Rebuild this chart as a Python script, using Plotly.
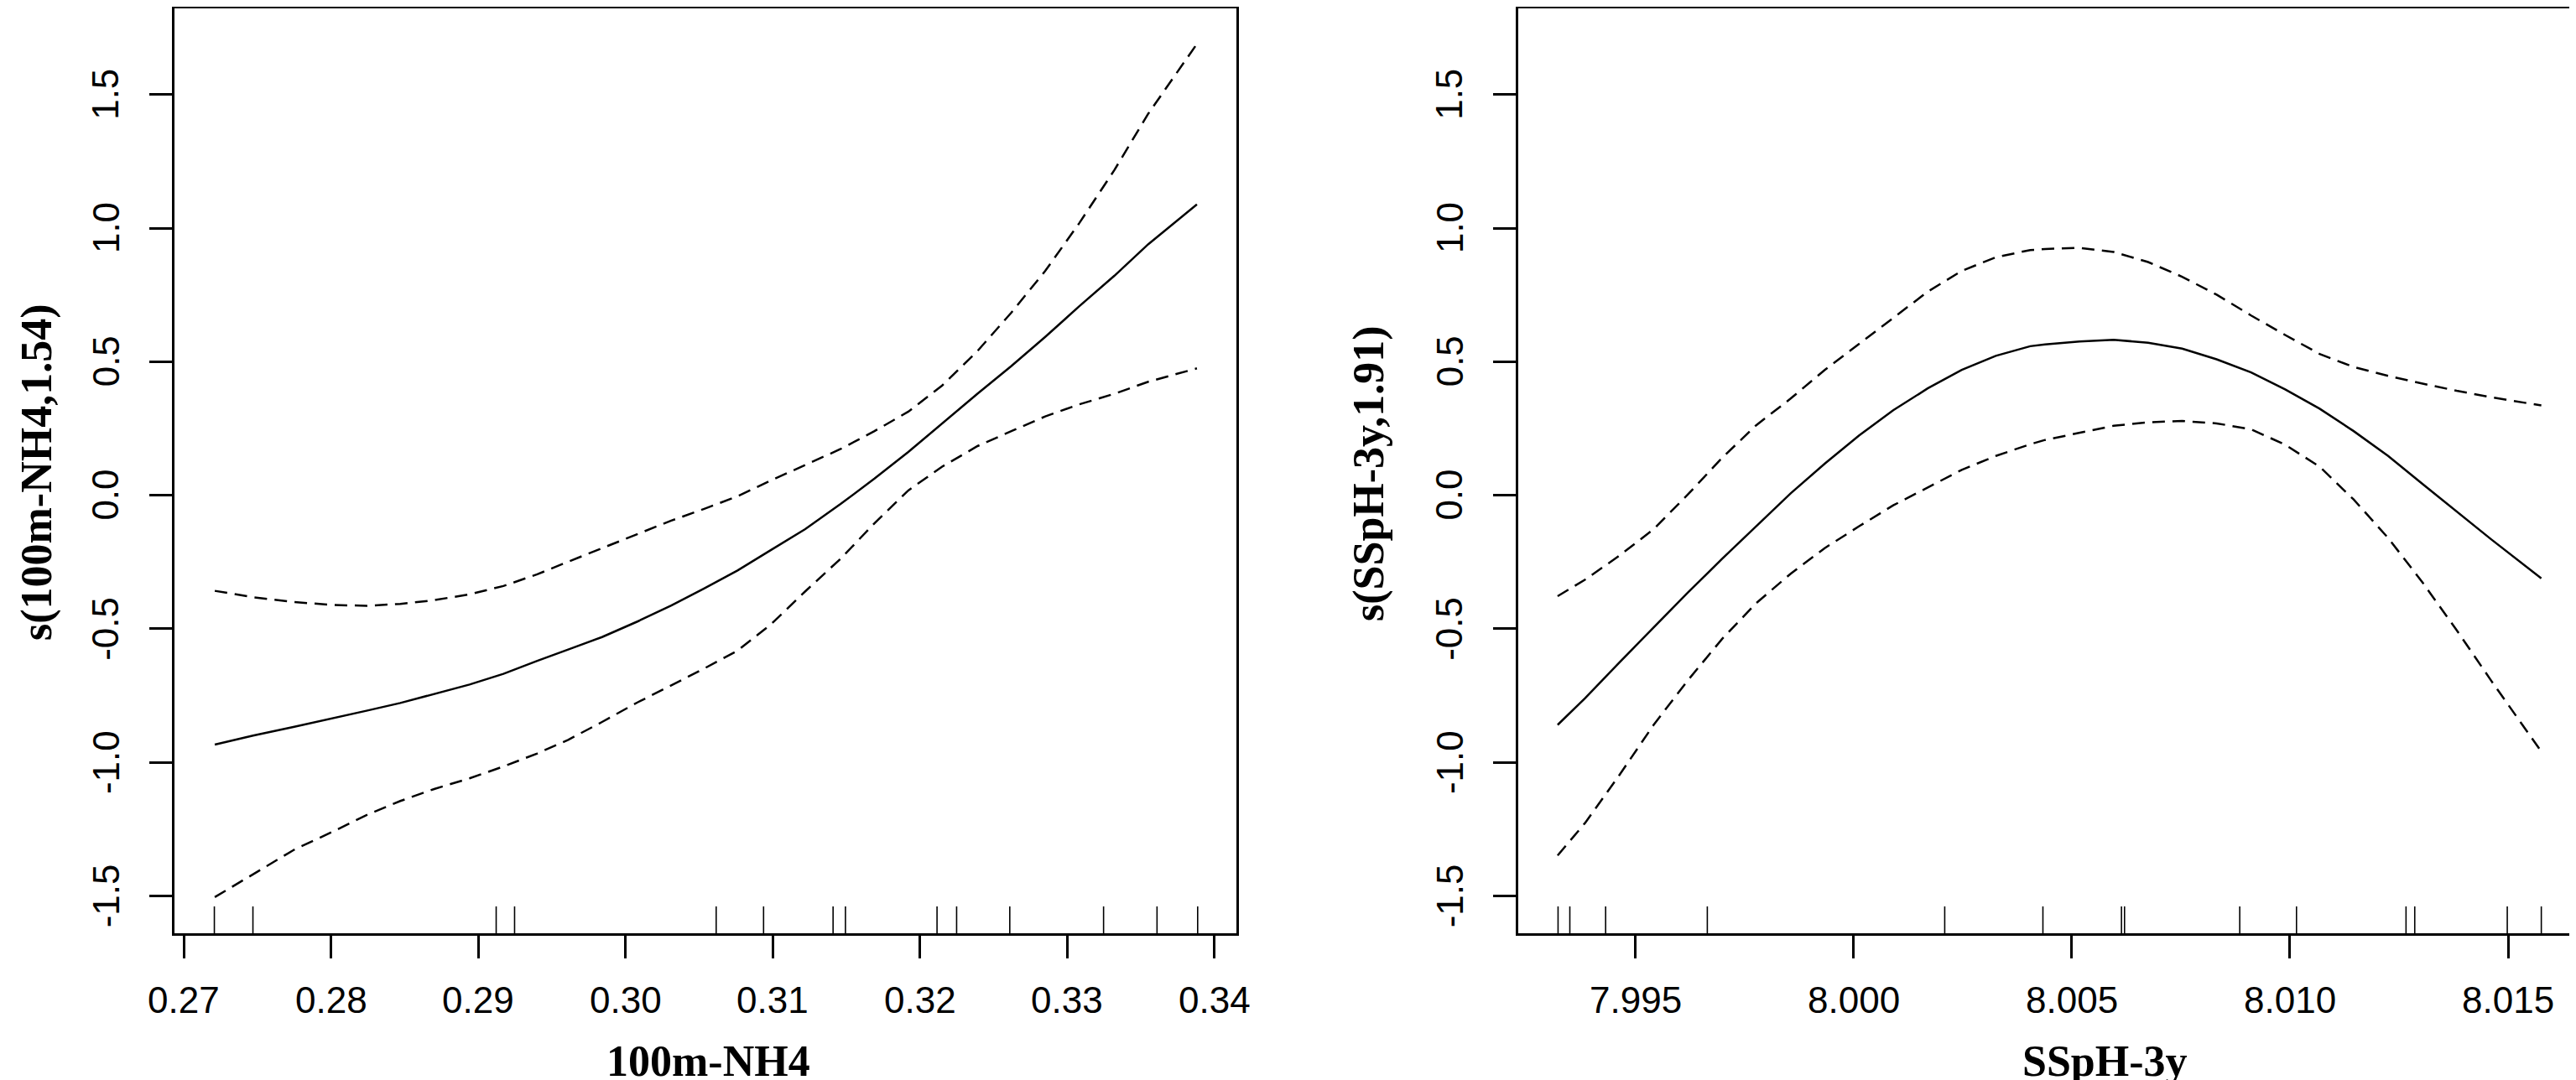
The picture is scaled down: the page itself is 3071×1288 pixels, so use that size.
import plotly.graph_objects as go

# ---- left panel: s(100m-NH4) ----
nh4_x = [0.2721, 0.2747, 0.2775, 0.2801, 0.2824, 0.2847, 0.2870, 0.2894, 0.2917, 0.2940,
         0.2961, 0.2984, 0.3008, 0.3031, 0.3053, 0.3076, 0.3099, 0.3122, 0.3146, 0.3169,
         0.3192, 0.3215, 0.3239, 0.3262, 0.3285, 0.3308, 0.3332, 0.3355, 0.3388]
nh4_fit = [-0.934, -0.900, -0.867, -0.836, -0.807, -0.778, -0.745, -0.709, -0.669, -0.620,
           -0.578, -0.531, -0.473, -0.413, -0.350, -0.282, -0.204, -0.127, -0.033, 0.062,
           0.162, 0.269, 0.380, 0.484, 0.593, 0.707, 0.822, 0.940, 1.089]
nh4_upper = [-0.358, -0.382, -0.400, -0.411, -0.414, -0.407, -0.393, -0.371, -0.340, -0.296,
             -0.249, -0.198, -0.144, -0.095, -0.052, -0.004, 0.056, 0.113, 0.173, 0.240,
             0.313, 0.411, 0.540, 0.684, 0.840, 1.018, 1.218, 1.429, 1.690]
nh4_lower = [-1.505, -1.420, -1.327, -1.260, -1.198, -1.145, -1.100, -1.060, -1.016, -0.967,
             -0.916, -0.849, -0.776, -0.712, -0.650, -0.582, -0.482, -0.360, -0.238, -0.105,
             0.018, 0.107, 0.184, 0.240, 0.295, 0.340, 0.380, 0.425, 0.475]
nh4_rug = [0.27207, 0.27469, 0.29121, 0.29246, 0.30615, 0.30937, 0.31409, 0.31493,
           0.32115, 0.32248, 0.32609, 0.33246, 0.33609, 0.33885]

# ---- right panel: s(SSpH-3y) ----
ph_x = [7.99322, 7.99385, 7.99463, 7.99542, 7.99620, 7.99699, 7.99777, 7.99856, 7.99934,
        8.00013, 8.00091, 8.00170, 8.00248, 8.00326, 8.00405, 8.00439, 8.00518, 8.00596,
        8.00675, 8.00753, 8.00832, 8.00911, 8.00989, 8.01068, 8.01146, 8.01225, 8.01304,
        8.01382, 8.01461, 8.01576]
ph_fit = [-0.860, -0.760, -0.627, -0.494, -0.365, -0.238, -0.116, 0.007, 0.118, 0.224,
          0.318, 0.400, 0.469, 0.522, 0.558, 0.565, 0.576, 0.582, 0.571, 0.549,
          0.509, 0.460, 0.396, 0.324, 0.240, 0.147, 0.042, -0.062, -0.165, -0.311]
ph_upper = [-0.378, -0.316, -0.227, -0.127, 0.002, 0.140, 0.262, 0.362, 0.469, 0.567,
            0.662, 0.762, 0.840, 0.891, 0.918, 0.922, 0.926, 0.911, 0.873, 0.818,
            0.751, 0.673, 0.600, 0.529, 0.480, 0.447, 0.418, 0.391, 0.367, 0.336]
ph_lower = [-1.349, -1.227, -1.049, -0.860, -0.694, -0.538, -0.404, -0.294, -0.198, -0.116,
            -0.038, 0.029, 0.095, 0.147, 0.191, 0.207, 0.233, 0.260, 0.273, 0.278,
            0.269, 0.247, 0.189, 0.107, -0.016, -0.160, -0.327, -0.505, -0.694, -0.960]
ph_rug = [7.99323, 7.99350, 7.99432, 7.99665, 8.00209, 8.00434, 8.00614, 8.00621,
          8.00885, 8.01015, 8.01266, 8.01286, 8.01498, 8.01576]

# ---- ticks and labels ----
nh4_ticks = [0.27, 0.28, 0.29, 0.30, 0.31, 0.32, 0.33, 0.34]
nh4_tick_labels = ["0.27", "0.28", "0.29", "0.30", "0.31", "0.32", "0.33", "0.34"]
ph_ticks = [7.995, 8.000, 8.005, 8.010, 8.015]
ph_tick_labels = ["7.995", "8.000", "8.005", "8.010", "8.015"]
y_ticks = [-1.5, -1.0, -0.5, 0.0, 0.5, 1.0, 1.5]
y_tick_labels = ["-1.5", "-1.0", "-0.5", "0.0", "0.5", "1.0", "1.5"]

W, H = 3071, 1288
TICK_FONT = dict(family="Liberation Sans, Arial", size=44, color="black")
TITLE_FONT = dict(family="Liberation Serif, Times New Roman", size=52, color="black")


def add_panel(fig, xs, fit, upper, lower, rug, xaxis, yaxis):
    line = dict(color="black", width=2.5)
    dashed = dict(color="black", width=2.5, dash="15px,9px")
    fig.add_trace(go.Scatter(x=xs, y=fit, mode="lines", line=line, xaxis=xaxis, yaxis=yaxis))
    fig.add_trace(go.Scatter(x=xs, y=upper, mode="lines", line=dashed, xaxis=xaxis, yaxis=yaxis))
    fig.add_trace(go.Scatter(x=xs, y=lower, mode="lines", line=dashed, xaxis=xaxis, yaxis=yaxis))
    for r in rug:
        fig.add_shape(type="line", x0=r, x1=r, y0=0, y1=0.029,
                      xref=xaxis, yref=yaxis + " domain",
                      line=dict(color="black", width=1.6))


def add_tick_labels(fig, xticks, xlabels, xaxis, yaxis, box_left_px):
    # R style tick labels: x labels below the axis, y labels rotated
    for v, t in zip(xticks, xlabels):
        fig.add_annotation(text=t, x=v, xref=xaxis, y=1 - 1184 / H, yref="paper",
                           xanchor="center", yanchor="middle", showarrow=False,
                           font=TICK_FONT)
    for v, t in zip(y_ticks, y_tick_labels):
        fig.add_annotation(text=t, y=v, yref=yaxis, x=(box_left_px - 82) / W, xref="paper",
                           xanchor="center", yanchor="middle", showarrow=False,
                           textangle=-90, font=TICK_FONT)


fig = go.Figure()
add_panel(fig, nh4_x, nh4_fit, nh4_upper, nh4_lower, nh4_rug, "x", "y")
add_panel(fig, ph_x, ph_fit, ph_upper, ph_lower, ph_rug, "x2", "y2")
add_tick_labels(fig, nh4_ticks, nh4_tick_labels, "x", "y", 200)
add_tick_labels(fig, ph_ticks, ph_tick_labels, "x2", "y2", 1802)

axis_common = dict(showline=True, mirror=True, linecolor="black", linewidth=2.5,
                   ticks="outside", ticklen=27, tickwidth=2.5, tickcolor="black",
                   showgrid=False, zeroline=False, showticklabels=False)

y_dom = [1 - 1105 / H, 1 - 2 / H]
fig.update_layout(
    width=W, height=H,
    margin=dict(l=0, r=0, t=0, b=0),
    paper_bgcolor="white", plot_bgcolor="white",
    showlegend=False,
    xaxis=dict(domain=[200 / W, 1466 / W], range=[0.269362, 0.341482],
               tickvals=nh4_ticks, anchor="y", **axis_common),
    yaxis=dict(domain=y_dom, range=[-1.6402, 1.8229], tickvals=y_ticks,
               anchor="x", **axis_common),
    xaxis2=dict(domain=[1802 / W, 3068 / W], range=[7.992318, 8.016651],
                tickvals=ph_ticks, anchor="y2", **axis_common),
    yaxis2=dict(domain=y_dom, range=[-1.6402, 1.8229], tickvals=y_ticks,
                anchor="x2", **axis_common),
)

x_titles = [("<b>100m-NH4</b>", 836), ("<b>SSpH-3y</b>", 2501)]
for text, px in x_titles:
    fig.add_annotation(text=text, x=px / W, y=0, xref="paper", yref="paper",
                       xanchor="center", yanchor="bottom", showarrow=False,
                       font=TITLE_FONT)

y_titles = [("<b>s(100m-NH4,1.54)</b>", 36, 555), ("<b>s(SSpH-3y,1.91)</b>", 1624, 557)]
for text, px, py in y_titles:
    fig.add_annotation(text=text, x=px / W, y=1 - py / H, xref="paper", yref="paper",
                       xanchor="center", yanchor="middle", showarrow=False,
                       textangle=-90, font=TITLE_FONT)

fig.write_html("out.html")
